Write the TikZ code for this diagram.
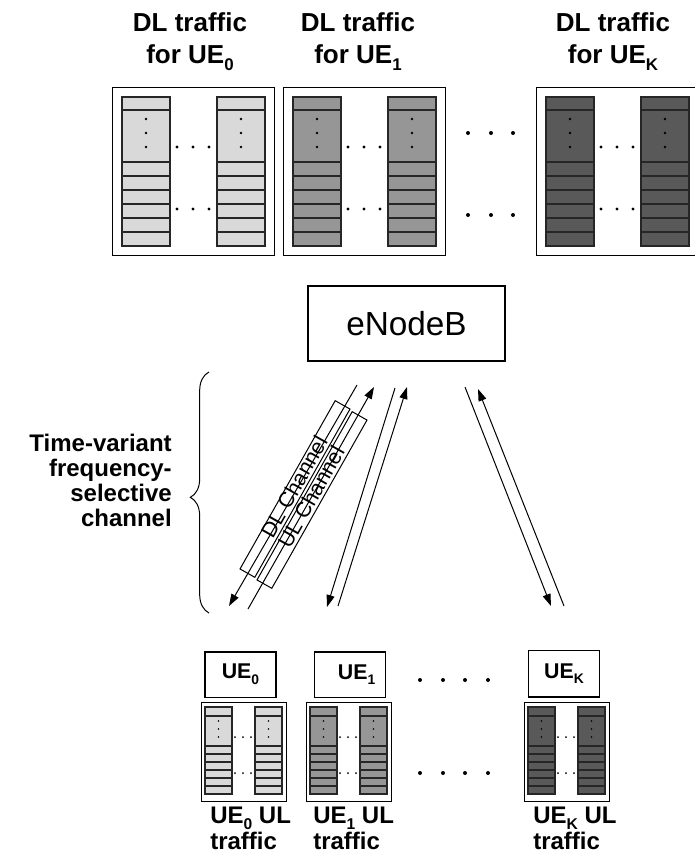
\documentclass[tikz,border=0pt]{standalone}
\usepackage{fontspec}
\setmainfont{Liberation Sans}
\usetikzlibrary{arrows.meta,decorations.pathreplacing}
\newcommand\lsub[1]{\raisebox{-0.5ex}{\scalebox{0.65}{#1}}}
\definecolor{gA}{HTML}{D9D9D9}
\definecolor{gB}{HTML}{969696}
\definecolor{gC}{HTML}{595959}
\newcommand\dltraffic[3]{%
 \begin{scope}[shift={(#2,87)}]
  \node[frame, anchor=north west, minimum width=121.5pt, minimum height=126pt] (#1) at (0,0) {};
  \foreach \cx in {10,105}{
    \fill[#3] (\cx,10) rectangle (\cx+48,159);
    \foreach \ry in {23,75,89,103,117,131,145}
      \draw[cellline] (\cx,\ry) -- (\cx+48,\ry);
    \draw[cellline] (\cx,10) rectangle (\cx+48,159);
    \foreach \dy in {32,46,60}
      \fill (\cx+24,\dy) circle (1pt);
  }
  \foreach \dx in {65,81,97}{
    \fill (\dx,60) circle (1.2pt);
    \fill (\dx,122) circle (1.2pt);
  }
 \end{scope}}
\newcommand\ultraffic[3]{%
 \begin{scope}[shift={(#2,702)}]
  \node[frame, anchor=north west, minimum width=63.75pt, minimum height=74.25pt] (#1) at (0,0) {};
  \foreach \cx in {4,54}{
    \fill[#3] (\cx,5) rectangle (\cx+27,92);
    \foreach \ry in {14,44,52,60,68,76,84}
      \draw[cellline] (\cx,\ry) -- (\cx+27,\ry);
    \draw[cellline] (\cx,5) rectangle (\cx+27,92);
    \foreach \dy in {19,27,35}
      \fill (\cx+13.5,\dy) circle (0.65pt);
  }
  \foreach \dx in {34,42,50}{
    \fill (\dx,35) circle (0.75pt);
    \fill (\dx,71) circle (0.75pt);
  }
 \end{scope}}
\begin{document}
\begin{tikzpicture}[x=0.75pt,y=-0.75pt,
  frame/.style={draw=black, line width=1pt, inner sep=0pt},
  cellline/.style={draw=black!85, line width=0.85pt},
  conn/.style={line width=0.75pt, -{Triangle[length=9pt,width=6pt]}},
  chbox/.style={draw, line width=0.75pt, minimum width=145pt, minimum height=12.75pt, inner sep=0pt, rotate=60.5},
  chtext/.style={font=\fontsize{16}{16}\selectfont, rotate=60.5, inner sep=0pt},
  title/.style={font=\bfseries\fontsize{19.5}{24.5}\selectfont, align=center, inner sep=0pt},
  btext/.style={font=\bfseries\fontsize{18}{19.5}\selectfont, inner sep=0pt},
  uebox/.style={draw=black, line width=1pt, minimum width=53.25pt, minimum height=34pt, inner sep=0pt, font=\bfseries\fontsize{16}{16}\selectfont},
  bigdot/.style={fill=black}
]
\useasboundingbox (0,0) rectangle (694,854);

% top DL traffic
\node[title] (t0) at (190,41.5) {DL traffic\\for UE\lsub{0}};
\node[title] (t1) at (358,41.5) {DL traffic\\for UE\lsub{1}};
\node[title] (tk) at (613,41.5) {DL traffic\\for UE\lsub{K}};
\dltraffic{dl0}{112}{gA}
\dltraffic{dl1}{283}{gB}
\dltraffic{dlk}{536}{gC}
\foreach \dx in {468,491,513}{
  \fill[bigdot] (\dx,133) circle (1.5pt);
  \fill[bigdot] (\dx,215) circle (1.5pt);
}

% eNodeB
\node[draw, line width=1pt, minimum width=147.75pt, minimum height=56.25pt, font=\fontsize{25}{25}\selectfont] (enb) at (406.5,323.5) {eNodeB};

% channel arrows
\coordinate (a1s) at (357,385); \coordinate (a1e) at (229,606);
\coordinate (a2s) at (248,609); \coordinate (a2e) at (374,387);
\coordinate (a3s) at (395,388); \coordinate (a3e) at (327,607);
\coordinate (a4s) at (338,606); \coordinate (a4e) at (407,387);
\coordinate (a5s) at (465,387); \coordinate (a5e) at (551,606);
\coordinate (a6s) at (564,606); \coordinate (a6e) at (478,389);
\draw[conn] (a1s) -- (a1e);
\draw[conn] (a2s) -- (a2e);
\draw[conn] (a3s) -- (a3e);
\draw[conn] (a4s) -- (a4e);
\draw[conn] (a5s) -- (a5e);
\draw[conn] (a6s) -- (a6e);
\node[chbox] (dlc) at (295,489) {};
\node[chbox] (ulc) at (312,500) {};
\node[chtext] (dlt) at (294,487) {DL Channel};
\node[chtext] (ult) at (311,497) {UL Channel};

% brace and label
\coordinate (bb) at (209,613);
\coordinate (bt) at (209,372);
\draw[line width=0.75pt, decorate, decoration={brace, amplitude=14pt, aspect=0.48}] (bb) -- (bt);
\node[btext, align=right, anchor=east, font=\bfseries\fontsize{18}{18.75}\selectfont] (chl) at (172,480.5) {Time-variant\\frequency-\\selective\\channel};

% UEs
\node[uebox] (ue0) at (240.5,674.5) {UE\lsub{0}};
\node[uebox] (ue1) at (350,674.5) {\hspace{10pt}UE\lsub{1}};
\node[uebox, minimum height=35pt] (uek) at (564,673.5) {UE\lsub{K}};
\ultraffic{ul0}{201}{gA}
\ultraffic{ul1}{306}{gB}
\ultraffic{ulk}{524}{gC}
\foreach \dx in {420,443,465,488}{
  \fill[bigdot] (\dx,680) circle (1.5pt);
  \fill[bigdot] (\dx,773) circle (1.5pt);
}
\node[btext, align=left, anchor=west] (l0) at (210,828) {UE\lsub{0} UL\\traffic};
\node[btext, align=left, anchor=west] (l1) at (313,828) {UE\lsub{1} UL\\traffic};
\node[btext, align=left, anchor=west] (lk) at (533,828) {UE\lsub{K} UL\\traffic};
\end{tikzpicture}
\end{document}
